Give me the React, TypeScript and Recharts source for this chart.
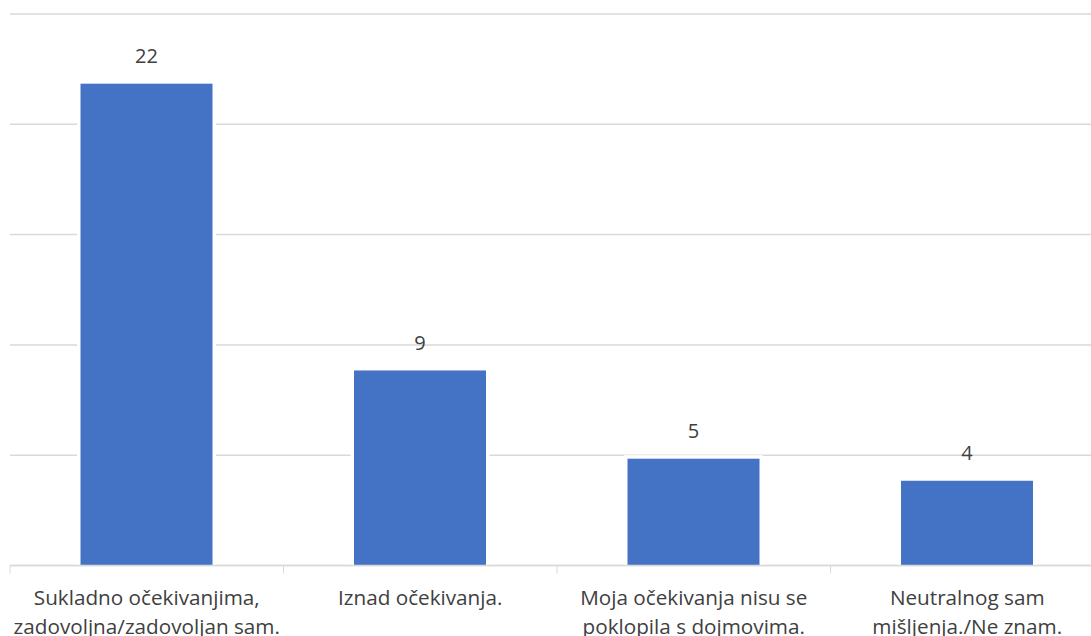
import { Bar, BarChart, CartesianGrid, LabelList, XAxis, YAxis } from "recharts";

const categories = [
  "Sukladno očekivanjima,\nzadovoljna/zadovoljan sam.",
  "Iznad očekivanja.",
  "Moja očekivanja nisu se\npoklopila s dojmovima.",
  "Neutralnog sam\nmišljenja./Ne znam.",
];
const counts = [22, 9, 5, 4];
const yTicks = [0, 5, 10, 15, 20, 25];

const data = categories.map((name, i) => ({ name, count: counts[i] }));

const CHART_W = 1110;
const CHART_H = 636;
const MARGIN = { top: 14, right: 6, left: 10, bottom: 0 };
const HALF_BAND = (CHART_W - MARGIN.left - MARGIN.right) / categories.length / 2;
const FONT = "'Open Sans', 'Noto Sans', sans-serif";
const TEXT = "#404040";
const GRID = "#d9d9d9";
const GAP = 3.5;

function CategoryTick(props: any) {
  const { x, y, payload } = props;
  const lines = String(payload.value).split("\n");
  return (
    <g>
      <line x1={x - HALF_BAND} x2={x - HALF_BAND} y1={y} y2={y + 8} stroke={GRID} strokeWidth={1} />
      <text x={x} y={y + 39} textAnchor="middle" fill={TEXT} fontSize={20.7} fontFamily={FONT}>
        {lines.map((line, i) => (
          <tspan key={i} x={x} dy={i === 0 ? 0 : 29}>
            {line}
          </tspan>
        ))}
      </text>
    </g>
  );
}

// white outline on top and sides only, so the bar sits on the axis line
function BarShape(props: any) {
  const { x, y, width, height } = props;
  if (!height) return <g />;
  return (
    <g>
      <rect x={x} y={y} width={width} height={height} fill="#ffffff" />
      <rect x={x + GAP} y={y + GAP} width={width - 2 * GAP} height={height - GAP} fill="#4472C4" />
    </g>
  );
}

export default function App() {
  return (
    <div
      style={{
        position: "absolute",
        left: 0,
        top: 0,
        width: 1091,
        height: 636,
        overflow: "hidden",
        background: "#fff",
      }}
    >
      <BarChart width={CHART_W} height={CHART_H} data={data} margin={MARGIN}>
        <CartesianGrid vertical={false} stroke={GRID} strokeWidth={1.5} />
        <YAxis hide domain={[0, 25]} ticks={yTicks} />
        <Bar dataKey="count" shape={<BarShape />} barSize={139} isAnimationActive={false}>
          <LabelList
            dataKey="count"
            position="top"
            offset={17}
            fill={TEXT}
            fontSize={20}
            fontFamily={FONT}
          />
        </Bar>
        <XAxis
          dataKey="name"
          interval={0}
          height={70.5}
          tickLine={false}
          tickSize={0}
          tickMargin={0}
          axisLine={{ stroke: GRID, strokeWidth: 1.5 }}
          tick={<CategoryTick />}
        />
      </BarChart>
    </div>
  );
}
